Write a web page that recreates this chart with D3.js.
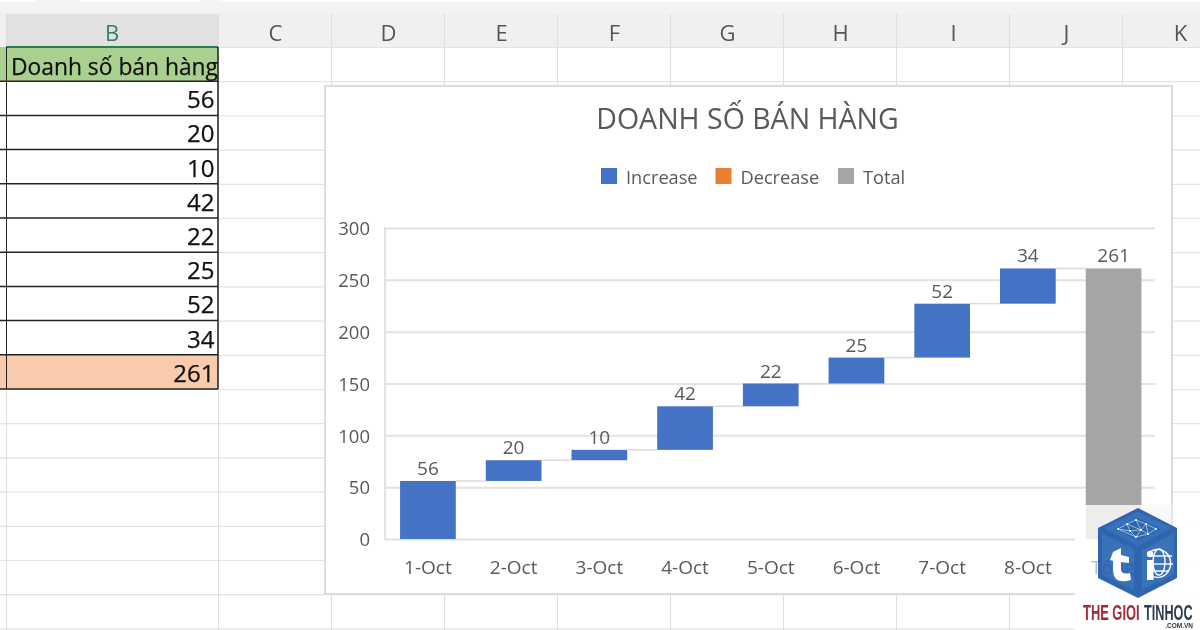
<!DOCTYPE html>
<html><head><meta charset="utf-8">
<script src="https://cdn.jsdelivr.net/npm/d3@7"></script>
<style>html,body{margin:0;background:#fff;overflow:hidden}svg{display:block;filter:blur(.35px)}text{font-family:"Open Sans","Noto Sans",sans-serif}</style>
</head><body><svg id="c" width="1200" height="630"></svg>
<script>
const categories=["1-Oct","2-Oct","3-Oct","4-Oct","5-Oct","6-Oct","7-Oct","8-Oct","Tổng"];
const salesValues=[56,20,10,42,22,25,52,34];
const totalValue=261;
const yTicks=[0,50,100,150,200,250,300];
const legendItems=["Increase","Decrease","Total"];
const legendColors=["#4472c4","#ed7d31","#a5a5a5"];
const columnLetters=["B","C","D","E","F","G","H","I","J","K"];
const titleText="DOANH SỐ BÁN HÀNG";
const tableHeader="Doanh số bán hàng";

const svg=d3.select("#c");
const grid="#e2e2e2", ink="#595959";

// ---- spreadsheet backdrop
const colX=d3.scaleLinear().domain([0,1]).range([218,331]);
const rowY=d3.scaleLinear().domain([0,1]).range([47,81.2]);
svg.append("rect").attr("width",1200).attr("height",630).attr("fill","#fff");
svg.append("rect").attr("y",0).attr("width",1200).attr("height",47).attr("fill","#f0f0f0");
svg.append("rect").attr("y",0).attr("width",1200).attr("height",13).attr("fill","#f3f3f3");
svg.append("rect").attr("x",6).attr("y",14).attr("width",212).attr("height",33).attr("fill","#e1e1e1");
[[0,36],[80,200],[218,1200]].forEach(([a,b])=>svg.append("rect").attr("x",a).attr("y",0).attr("width",b-a).attr("height",2).attr("fill","#fbfbfb"));
d3.range(0,18).forEach(i=>svg.append("line").attr("x1",0).attr("x2",1200).attr("y1",rowY(i)+.5).attr("y2",rowY(i)+.5).attr("stroke","#e3e3e3").attr("stroke-width",1.2));
svg.append("line").attr("x1",6.5).attr("x2",6.5).attr("y1",14).attr("y2",630).attr("stroke","#dcdcdc");
d3.range(0,9).forEach(i=>svg.append("line").attr("x1",colX(i)+.5).attr("x2",colX(i)+.5).attr("y1",14).attr("y2",630).attr("stroke","#dedede"));
columnLetters.forEach((l,i)=>{
  const cx=i===0?112:colX(i-1)+57.5+(i===9?1:0);
  svg.append("text").attr("x",cx).attr("y",41).attr("text-anchor","middle").attr("font-size",22)
    .attr("font-family","Noto Sans").attr("fill",i===0?"#3d7d5c":"#555").text(l);
});

// ---- the table
const rows=salesValues.concat([totalValue]);
svg.append("rect").attr("x",0).attr("y",47).attr("width",218).attr("height",34).attr("fill","#a9d08e");
svg.append("rect").attr("x",6).attr("y",46).attr("width",212).attr("height",2).attr("fill","#2e7d4f");
svg.append("text").attr("x",11).attr("y",75).attr("font-size",24.5).attr("fill","#111").attr("stroke","#111").attr("stroke-width",.25).attr("textLength",207).attr("lengthAdjust","spacingAndGlyphs").text(tableHeader);
svg.selectAll(".cell").data(rows).join("rect").attr("x",0).attr("y",(d,i)=>rowY(i+1)).attr("width",218).attr("height",34.2)
  .attr("fill",(d,i)=>i===rows.length-1?"#f8cbad":"#fff").attr("stroke","none");
d3.range(0,rows.length+1).forEach(i=>svg.append("line").attr("x1",0).attr("x2",218).attr("y1",rowY(i+1)).attr("y2",rowY(i+1)).attr("stroke","#222").attr("stroke-width",1.5));
svg.append("line").attr("x1",6.5).attr("x2",6.5).attr("y1",47).attr("y2",rowY(rows.length+1)).attr("stroke","#222").attr("stroke-width",1);
svg.append("line").attr("x1",218).attr("x2",218).attr("y1",47).attr("y2",rowY(rows.length+1)).attr("stroke","#222").attr("stroke-width",1.5);
svg.selectAll(".num").data(rows).join("text").attr("x",214.5).attr("y",(d,i)=>rowY(i+1)+27).attr("text-anchor","end")
  .attr("font-size",24).attr("fill","#111").attr("stroke","#111").attr("stroke-width",.25).text(d=>d);

// ---- chart card
svg.append("rect").attr("x",325).attr("y",86).attr("width",847).attr("height",508).attr("fill","#fff").attr("stroke","#dcdcdc").attr("stroke-width",2);
svg.append("text").attr("x",747.5).attr("y",129).attr("text-anchor","middle").attr("font-size",28.5).attr("fill",ink).text(titleText);

// legend
const legendX=[601,715.5,838];
legendItems.forEach((t,i)=>{
  svg.append("rect").attr("x",legendX[i]).attr("y",168).attr("width",16).attr("height",16).attr("fill",legendColors[i]);
  svg.append("text").attr("x",legendX[i]+25).attr("y",183.5).attr("font-size",18.2).attr("fill",ink).text(t);
});

// plot
const x=d3.scaleBand().domain(categories).range([385.5,1156]).paddingInner(.35).paddingOuter(.17);
const y=d3.scaleLinear().domain([0,300]).range([539,228]);
const gY=svg.append("g").attr("transform","translate(385,0)")
  .call(d3.axisLeft(y).tickValues(yTicks).tickSize(-770).tickPadding(15));
gY.select(".domain").remove();
gY.selectAll("line").attr("stroke",grid).attr("stroke-width",2);
gY.selectAll("text").attr("font-size",18.5).attr("fill",ink).attr("dy","0.36em").style("font-family","Open Sans");
svg.append("line").attr("x1",385).attr("x2",385).attr("y1",227).attr("y2",540).attr("stroke",grid).attr("stroke-width",2);

const gX=svg.append("g").attr("transform","translate(0,539)")
  .call(d3.axisBottom(x).tickSize(0).tickPadding(22));
gX.select(".domain").remove();
gX.selectAll("text").attr("font-size",19).attr("fill",ink).style("font-family","Open Sans");

// waterfall
let run=0;
const steps=salesValues.map((v,i)=>{const s={cat:categories[i],v,from:run,to:run+v};run+=v;return s;});
const marks=steps.concat([{cat:categories[8],v:totalValue,from:0,to:totalValue,total:true}]);
svg.selectAll(".conn").data(marks.slice(0,-1)).join("line")
  .attr("x1",d=>x(d.cat)+x.bandwidth()).attr("x2",(d,i)=>x(marks[i+1].cat))
  .attr("y1",d=>y(d.to)).attr("y2",d=>y(d.to)).attr("stroke","#dcdcdc").attr("stroke-width",1.5);
svg.selectAll(".bar").data(marks).join("rect")
  .attr("x",d=>x(d.cat)).attr("width",x.bandwidth())
  .attr("y",d=>y(d.to)).attr("height",d=>y(d.from)-y(d.to))
  .attr("fill",d=>d.total?legendColors[2]:legendColors[0]);
svg.selectAll(".lab").data(marks).join("text")
  .attr("x",d=>x(d.cat)+x.bandwidth()/2).attr("y",d=>y(d.to)-6)
  .attr("text-anchor","middle").attr("font-size",19).attr("fill",ink).text(d=>d.v);

// ---- watermark over the corner
const wm=svg.append("g");
wm.append("rect").attr("x",1075).attr("y",505).attr("width",125).attr("height",125).attr("fill","#fff").attr("opacity",.94);
wm.append("rect").attr("x",1086).attr("y",505).attr("width",55).attr("height",34).attr("fill","#ededed");
wm.append("rect").attr("x",1141).attr("y",505).attr("width",31).attr("height",34).attr("fill","#fafafa");
wm.append("line").attr("x1",1172).attr("x2",1172).attr("y1",505).attr("y2",525).attr("stroke","#e6e6e6").attr("stroke-width",2);
const poly=(p,f)=>wm.append("polygon").attr("points",p).attr("fill",f);
poly("1138,508 1177,528 1177,578 1138,598 1098,578 1098,528","#2d66ae");
poly("1138,512 1172,528 1138,546 1104,528","#3871bb");
poly("1138,518 1161,529 1138,541 1115,529","#2d66ae");
poly("1102,533 1134,550 1134,590 1102,574","#3a72b9");
poly("1142,550 1174,533 1174,574 1142,590","#3a72b9");
// network on the top face
const nodes=[[1118,529],[1127,524],[1136,520],[1146,524],[1156,529],[1130,531],[1141,530],[1148,534],[1136,537]];
[[0,1],[1,2],[2,3],[3,4],[0,5],[1,5],[2,6],[3,6],[5,6],[6,7],[4,7],[5,8],[6,8],[7,8],[1,6],[3,7],[0,8]].forEach(([a,b])=>
  wm.append("line").attr("x1",nodes[a][0]).attr("y1",nodes[a][1]).attr("x2",nodes[b][0]).attr("y2",nodes[b][1]).attr("stroke","#c9dcf2").attr("stroke-width",.7));
nodes.forEach(n=>wm.append("circle").attr("cx",n[0]).attr("cy",n[1]).attr("r",1).attr("fill","#fff"));
// the covered "Tổng" label showing faintly through the logo
wm.append("text").attr("x",1113).attr("y",574).attr("text-anchor","middle").attr("font-size",19).attr("fill","#1f4f8f").attr("opacity",.35).text(categories[8]);
// "t" face
wm.append("path").attr("d","M1111 553 L1119 549 L1119 556 L1127 558 L1127 564 L1119 563 L1119 571 Q1120 576 1128 574 L1129 581 Q1112 586 1111 572 L1111 562 L1108 561 Z").attr("fill","#fff").attr("transform","translate(2,-1)");
// globe "i" face
const glob=wm.append("g").attr("fill","none").attr("stroke","#fff").attr("stroke-width",1.4);
glob.append("path").attr("d","M1148 554 A13 14 0 1 1 1152 576");
glob.append("ellipse").attr("cx",1159).attr("cy",562).attr("rx",6).attr("ry",13);
glob.append("line").attr("x1",1150).attr("y1",556).attr("x2",1172).attr("y2",556);
glob.append("line").attr("x1",1150).attr("y1",564).attr("x2",1173).attr("y2",564);
glob.append("line").attr("x1",1152).attr("y1",571).attr("x2",1169).attr("y2",571);
wm.append("circle").attr("cx",1150).attr("cy",554).attr("r",3.2).attr("fill","#fff");
wm.append("rect").attr("x",1147).attr("y",560).attr("width",6.5).attr("height",20).attr("fill","#fff");
const brand=(t,xp,sx,f)=>wm.append("text").attr("transform",`translate(${xp},620) scale(${sx},1)`).attr("font-size",21.5).attr("font-weight",700).attr("fill",f).style("font-family","Liberation Sans").text(t);
brand("THE GIOI",1083,.6,"#a22a3a");
brand("TINHOC",1144,.59,"#2f3c4f");
wm.append("text").attr("x",1193).attr("y",628).attr("text-anchor","end").attr("font-size",6.5).attr("font-weight",700).attr("fill","#333").style("font-family","Liberation Sans").text(".COM.VN");
</script></body></html>
